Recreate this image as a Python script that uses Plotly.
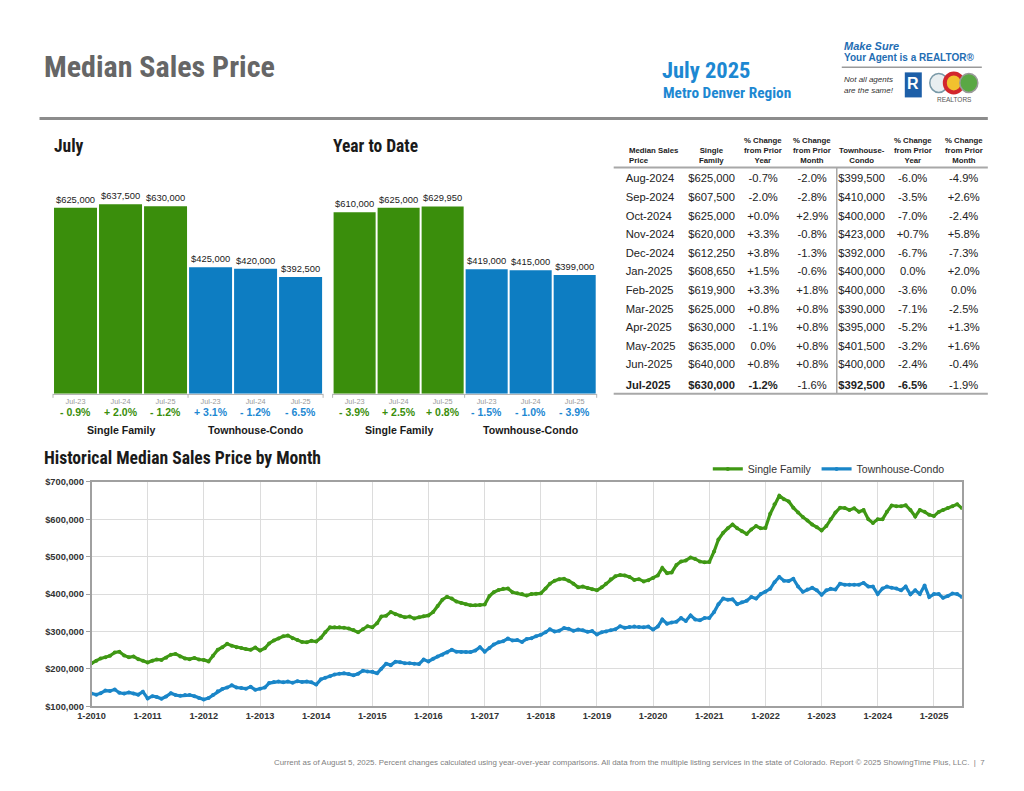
import pandas as pd
import plotly.graph_objects as go

# --- bar panels (July / Year to Date) ---
periods = ["Jul-23", "Jul-24", "Jul-25"]
july_sf = [625000, 637500, 630000]
july_tc = [425000, 420000, 392500]
july_sf_chg = ["- 0.9%", "+ 2.0%", "- 1.2%"]
july_tc_chg = ["+ 3.1%", "- 1.2%", "- 6.5%"]
ytd_sf = [610000, 625000, 629950]
ytd_tc = [419000, 415000, 399000]
ytd_sf_chg = ["- 3.9%", "+ 2.5%", "+ 0.8%"]
ytd_tc_chg = ["- 1.5%", "- 1.0%", "- 3.9%"]

# --- monthly table ---
tbl_header = ["Median Sales<br>Price", "Single<br>Family", "% Change<br>from Prior<br>Year",
              "% Change<br>from Prior<br>Month", "Townhouse-<br>Condo", "% Change<br>from Prior<br>Year",
              "% Change<br>from Prior<br>Month"]
tbl_months = ["Aug-2024", "Sep-2024", "Oct-2024", "Nov-2024", "Dec-2024", "Jan-2025",
              "Feb-2025", "Mar-2025", "Apr-2025", "May-2025", "Jun-2025", "Jul-2025"]
tbl_sf = [625000, 607500, 625000, 620000, 612250, 608650, 619900, 625000, 630000, 635000, 640000, 630000]
tbl_sf_yoy = ["-0.7%", "-2.0%", "+0.0%", "+3.3%", "+3.8%", "+1.5%", "+3.3%", "+0.8%", "-1.1%", "0.0%", "+0.8%", "-1.2%"]
tbl_sf_mom = ["-2.0%", "-2.8%", "+2.9%", "-0.8%", "-1.3%", "-0.6%", "+1.8%", "+0.8%", "+0.8%", "+0.8%", "+0.8%", "-1.6%"]
tbl_tc = [399500, 410000, 400000, 423000, 392000, 400000, 400000, 390000, 395000, 401500, 400000, 392500]
tbl_tc_yoy = ["-6.0%", "-3.5%", "-7.0%", "+0.7%", "-6.7%", "0.0%", "-3.6%", "-7.1%", "-5.2%", "-3.2%", "-2.4%", "-6.5%"]
tbl_tc_mom = ["-4.9%", "+2.6%", "-2.4%", "+5.8%", "-7.3%", "+2.0%", "0.0%", "-2.5%", "+1.3%", "+1.6%", "-0.4%", "-1.9%"]

# --- historical median price by month, Jan 2010 - Jul 2025 (in $ thousands) ---
hist_start = "2010-01-01"
sf_hist_k = [
    215, 222, 228, 231, 235, 244, 246, 236, 231, 233, 226, 222,
    217, 222, 225, 224, 230, 238, 240, 233, 228, 226, 229, 225,
    224, 220, 235, 251, 258, 267, 262, 258, 256, 253, 251, 257,
    249, 255, 268, 276, 281, 287, 289, 282, 277, 272, 271, 275,
    273, 283, 298, 311, 311, 311, 310, 308, 304, 298, 306, 314,
    311, 322, 340, 342, 352, 346, 342, 338, 340, 335, 338, 341,
    343, 352, 368, 385, 393, 388, 380, 376, 373, 370, 370, 371,
    372, 395, 405, 411, 414, 415, 405, 402, 400, 396, 400, 401,
    402, 415, 428, 436, 440, 441, 436, 428, 418, 420, 416, 413,
    410, 418, 428, 440, 448, 451, 450, 446, 438, 440, 434, 437,
    443, 450, 470, 456, 458, 478, 487, 490, 498, 494, 487, 485,
    486, 514, 546, 564, 576, 586, 576, 568, 561, 573, 582, 576,
    577, 615, 640, 663, 654, 648, 631, 618, 606, 597, 586, 579,
    570, 582, 600, 618, 631, 630, 625, 629.4, 620, 625, 600, 590,
    600, 600, 620, 637, 635, 635, 637.5, 625, 607.5, 625, 620, 612.25,
    608.65, 619.9, 625, 630, 635, 640, 630,
]
tc_hist_k = [
    134, 131, 135, 142, 141, 145, 136, 134, 137, 134, 131, 139,
    121, 127, 125, 120, 126, 135, 130, 128, 130, 130, 127, 122,
    118, 122, 130, 140, 146, 150, 156, 150, 149, 147, 152, 144,
    147, 150, 162, 165, 166, 164, 166, 163, 167, 165, 166, 164,
    158, 172, 176, 180, 185, 187, 188, 186, 183, 187, 195, 193,
    192, 188, 200, 214, 210, 219, 218, 215, 215, 214, 213, 225,
    220, 227, 233, 238, 244, 251, 246, 245, 245, 245, 249, 258,
    246, 256, 265, 271, 274, 281, 276, 277, 272, 280, 282, 287,
    291, 298, 306, 300, 302, 309, 307, 302, 305, 303, 299, 301,
    292, 298, 300, 303, 306, 314, 310, 312, 313, 312, 311, 313,
    305, 313, 332, 321, 324, 326, 336, 328, 343, 332, 330, 336,
    336, 352, 373, 388, 385, 386, 373, 378, 382, 392, 388, 400,
    406, 414, 432, 446, 436, 435, 441, 420, 406, 412, 417, 410,
    398, 410, 414, 412, 428, 425, 425, 425, 425, 430, 420, 420,
    400, 415, 420, 417, 415, 410, 420, 399.5, 410, 400, 423, 392,
    400, 400, 390, 395, 401.5, 400, 392.5,
]

GREEN = "#3a8e0c"
BLUE = "#0d7dc2"
LGREEN = "#3f9814"
LBLUE = "#1a86c8"
HEAD_BLUE = "#1d88d2"
COND = "Liberation Sans Narrow, Roboto Condensed, DejaVu Sans Condensed, Arial Narrow, sans-serif"
SANS = "Liberation Sans, Arial, sans-serif"

W, H = 1024, 791
# page lands slightly scaled/offset in the snapshot, so map target pixels back
SC, OX, OY = 0.986, 20.5, 12.7


def px(x):
    return (x - OX) / SC / W


def py(y):
    return 1 - (y - OY) / SC / H


fig = go.Figure()

# bar panels
panels = [
    (1, july_sf, july_tc, july_sf_chg, july_tc_chg, (51.5, 321.5)),
    (2, ytd_sf, ytd_tc, ytd_sf_chg, ytd_tc_chg, (331, 595)),
]
annotations = []
shapes = []
for n, sf, tc, sf_chg, tc_chg, dom in panels:
    xa = "x" if n == 1 else f"x{n}"
    ya = "y" if n == 1 else f"y{n}"
    cats_sf = ["Single Family " + p for p in periods]
    cats_tc = ["Townhouse-Condo " + p for p in periods]
    for cats, vals, col in [(cats_sf, sf, GREEN), (cats_tc, tc, BLUE)]:
        fig.add_trace(go.Bar(
            x=cats, y=vals, marker_color=col, marker_line_width=0,
            xaxis=xa, yaxis=ya, showlegend=False,
            texttemplate="$%{y:,.0f}", textposition="outside",
            textfont=dict(size=9.4, color="#1a1a1a", family=SANS),
            cliponaxis=False, hoverinfo="x+y",
        ))
    axkey = "xaxis" if n == 1 else f"xaxis{n}"
    aykey = "yaxis" if n == 1 else f"yaxis{n}"
    fig.layout[axkey] = dict(
        domain=[px(dom[0]), px(dom[1])], anchor=ya,
        categoryorder="array", categoryarray=cats_sf + cats_tc,
        tickvals=cats_sf + cats_tc, ticktext=periods + periods,
        tickfont=dict(size=7.3, color="#9a9a9a", family=SANS),
        showline=True, linecolor="#b5b5b5", linewidth=1, ticks="",
        showgrid=False, fixedrange=True,
    )
    fig.layout[aykey] = dict(
        domain=[py(393), py(185)], anchor=xa, range=[0, 700000],
        visible=False, fixedrange=True,
    )
    for cats, chg, col in [(cats_sf, sf_chg, GREEN), (cats_tc, tc_chg, HEAD_BLUE)]:
        for c, t in zip(cats, chg):
            annotations.append(dict(
                x=c, xref=xa, y=py(411), yref="paper", text=t, showarrow=False,
                font=dict(size=10.5, color=col, family=SANS, weight="bold"),
            ))
    for cats, lab in [(cats_sf, "Single Family"), (cats_tc, "Townhouse-Condo")]:
        annotations.append(dict(
            x=cats[1], xref=xa, y=py(429), yref="paper", text=lab, showarrow=False,
            font=dict(size=10.6, color="#1a1a1a", family=SANS, weight="bold"),
        ))
    for k in range(3):
        xx = px(dom[0] + k * (dom[1] - dom[0]) / 2)
        shapes.append(dict(type="line", xref="paper", yref="paper", x0=xx, x1=xx,
                           y0=py(393), y1=py(397), line=dict(color="#b5b5b5", width=1)))

# historical line chart
dates = pd.date_range(hist_start, periods=len(sf_hist_k), freq="MS")
for name, vals, col in [("Single Family", sf_hist_k, LGREEN), ("Townhouse-Condo", tc_hist_k, LBLUE)]:
    fig.add_trace(go.Scatter(
        x=dates, y=[v * 1000 for v in vals], name=name, mode="lines+markers",
        line=dict(color=col, width=3.2), marker=dict(size=4, color=col),
        xaxis="x3", yaxis="y3",
    ))

fig.update_layout(
    xaxis3=dict(
        domain=[px(90), px(960)], anchor="y3", type="date",
        range=[dates[0], dates[-1]], dtick="M12", tick0=hist_start, tickformat="%-m-%Y",
        tickfont=dict(size=9.2, color="#333333", family=SANS, weight="bold"),
        showgrid=True, gridcolor="#dcdcdc", gridwidth=1,
        showline=True, linecolor="#a0a0a0", linewidth=1.5, mirror=True, ticks="",
    ),
    yaxis3=dict(
        domain=[py(705), py(481)], anchor="x3", range=[100000, 700000], dtick=100000,
        tickformat="$,.0f",
        tickfont=dict(size=9.3, color="#333333", family=SANS, weight="bold"),
        showgrid=True, gridcolor="#dcdcdc", gridwidth=1,
        showline=True, linecolor="#a0a0a0", linewidth=1.5, mirror=True,
        ticks="outside", ticklen=4, tickcolor="#a0a0a0", zeroline=False,
    ),
)

# table
def money(v):
    return f"${v:,.0f}"


last = len(tbl_months) - 1
col_vals = [
    tbl_months,
    [money(v) for v in tbl_sf],
    tbl_sf_yoy,
    tbl_sf_mom,
    [money(v) for v in tbl_tc],
    tbl_tc_yoy,
    tbl_tc_mom,
]
bold_cols = [0, 1, 2, 4, 5]
cells = []
for ci, col in enumerate(col_vals):
    out = list(col)
    # last row: bold where the report is bold, span elsewhere so the row renders evenly
    out[last] = f"<b>{out[last]}</b>" if ci in bold_cols else f"<span>{out[last]}</span>"
    cells.append(out)

col_w = [66, 56, 47, 51, 48, 54, 48]
tbl_x0, tbl_x1 = 616, 986
fig.add_trace(go.Table(
    domain=dict(x=[px(tbl_x0), px(tbl_x1)], y=[py(400), py(147.5)]),
    columnwidth=col_w,
    header=dict(values=[""] * 7, height=18, fill_color="white", line_color="white",
                font=dict(size=2, color="white")),
    cells=dict(values=cells, align=["left"] + ["center"] * 6, height=18.6,
               fill_color="white", line_color="white",
               font=dict(size=11.2, color="#222222", family=SANS)),
))
# header labels over the table columns
edge = tbl_x0
for ci, (lab, w) in enumerate(zip(tbl_header, col_w)):
    if ci == 0:
        annotations.append(dict(x=px(edge + 9), y=py(166), xref="paper", yref="paper", text=f"<b>{lab}</b>",
                                showarrow=False, xanchor="left", yanchor="bottom", align="left",
                                font=dict(size=7.8, color="#222222", family=SANS)))
    else:
        annotations.append(dict(x=px(edge + w / 2), y=py(166), xref="paper", yref="paper", text=f"<b>{lab}</b>",
                                showarrow=False, xanchor="center", yanchor="bottom", align="center",
                                font=dict(size=7.8, color="#222222", family=SANS)))
    edge += w

shapes += [
    dict(type="line", xref="paper", yref="paper", x0=px(612), x1=px(986), y0=py(167), y1=py(167),
         line=dict(color="#a8a8a8", width=2)),
    dict(type="line", xref="paper", yref="paper", x0=px(612), x1=px(986), y0=py(393), y1=py(393),
         line=dict(color="#a8a8a8", width=2)),
    dict(type="line", xref="paper", yref="paper", x0=px(835), x1=px(835), y0=py(167), y1=py(393),
         line=dict(color="#a8a8a8", width=1.5)),
    # header rule
    dict(type="line", xref="paper", yref="paper", x0=px(38), x1=px(986), y0=py(118), y1=py(118),
         line=dict(color="#8c8c8c", width=3)),
    # logo pieces
    dict(type="line", xref="paper", yref="paper", x0=px(840), x1=px(980), y0=py(67), y1=py(67),
         line=dict(color="#9a9a9a", width=1.5)),
    dict(type="rect", xref="paper", yref="paper", x0=px(903), x1=px(920), y0=py(97), y1=py(72),
         fillcolor="#1d5fa8", line_width=0),
    dict(type="circle", xref="paper", yref="paper", x0=px(928), x1=px(946), y0=py(92), y1=py(73),
         fillcolor="#e8eef0", line=dict(color="#7a9aa8", width=1.5)),
    dict(type="circle", xref="paper", yref="paper", x0=px(943), x1=px(961), y0=py(92), y1=py(73),
         fillcolor="#f2c12e", line=dict(color="#d2262c", width=4)),
    dict(type="circle", xref="paper", yref="paper", x0=px(958), x1=px(976), y0=py(92), y1=py(73),
         fillcolor="#5aa844", line=dict(color="#9a9a9a", width=1.5)),
]


def txt(x, y, s, size, color, family=SANS, bold=False, italic=False, anchor="left"):
    annotations.append(dict(
        x=px(x), y=py(y), xref="paper", yref="paper", text=s, showarrow=False,
        xanchor=anchor, yanchor="middle",
        font=dict(size=size, color=color, family=family,
                  weight="bold" if bold else "normal", style="italic" if italic else "normal"),
    ))


txt(40, 66, "Median Sales Price", 30, "#666666", COND, bold=True)
txt(658, 70, "July 2025", 22.5, HEAD_BLUE, COND, bold=True)
txt(659, 93, "Metro Denver Region", 15.3, HEAD_BLUE, COND, bold=True)
txt(840, 46, "Make Sure", 11, "#1f6db3", SANS, bold=True, italic=True)
txt(840, 57, "Your Agent is a REALTOR®", 10, "#1f6db3", SANS, bold=True)
txt(840, 79, "Not all agents", 8, "#333333", SANS, italic=True)
txt(840, 90, "are the same!", 8, "#333333", SANS, italic=True)
txt(911.5, 83, "R", 16, "white", SANS, bold=True, anchor="center")
txt(953, 99, "REALTORS", 6.5, "#555555", SANS, anchor="center")
txt(50, 146, "July", 17.5, "#1a1a1a", COND, bold=True)
txt(329, 146, "Year to Date", 17.5, "#1a1a1a", COND, bold=True)
txt(40, 457, "Historical Median Sales Price by Month", 17.6, "#1a1a1a", COND, bold=True)
txt(985, 761, "Current as of August 5, 2025. Percent changes calculated using year-over-year comparisons. "
    "All data from the multiple listing services in the state of Colorado. Report © 2025 ShowingTime Plus, LLC.  |  7",
    7.9, "#808080", SANS, anchor="right")

fig.update_layout(
    width=W, height=H, autosize=False,
    margin=dict(l=0, r=0, t=0, b=0),
    paper_bgcolor="white", plot_bgcolor="white",
    barmode="overlay", bargap=0.045,
    annotations=annotations, shapes=shapes,
    showlegend=True,
    legend=dict(orientation="h", x=px(948), xanchor="right", y=py(468), yanchor="middle",
                font=dict(size=10.5, color="#333333", family=SANS), bgcolor="rgba(0,0,0,0)",
                itemwidth=30),
    font=dict(family=SANS),
)

fig.write_html("out.html")
